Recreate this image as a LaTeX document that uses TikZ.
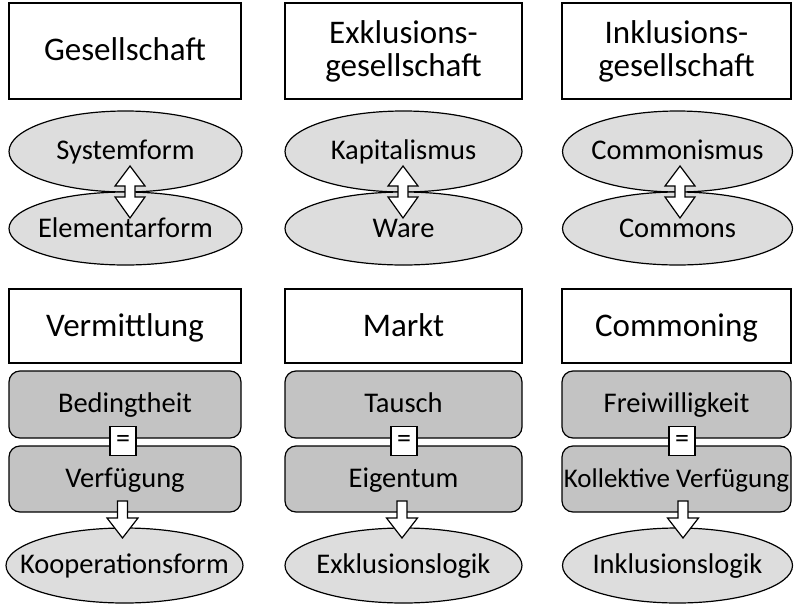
\documentclass[tikz,border=0pt]{standalone}
\usepackage{fontspec}
\setmainfont{Carlito}
\usetikzlibrary{calc,shapes.geometric}
\definecolor{ellfill}{RGB}{221,221,221}
\definecolor{boxfill}{RGB}{195,195,195}
\newcommand\zw[1]{\makebox[0pt]{#1}}
\tikzset{
  titlebox/.style={draw, line width=1.2pt, fill=white, inner sep=0pt, align=center,
    font=\fontsize{33}{33}\selectfont},
  onetitle/.style={titlebox, text height=25pt, text depth=5pt},
  ellbox/.style={ellipse, draw, line width=1.2pt, fill=ellfill, inner sep=0pt,
    text height=21pt, text depth=5pt, font=\fontsize{28.5}{30}\selectfont},
  rbox/.style={rectangle, rounded corners=11pt, draw, line width=1.2pt, fill=boxfill, inner sep=0pt,
    text height=21pt, text depth=5pt, font=\fontsize{28.5}{30}\selectfont},
  eqbox/.style={draw, line width=1.2pt, fill=white, inner sep=0pt, minimum width=26pt, minimum height=29pt,
    font=\fontsize{28}{30}\selectfont},
  blockarrow/.style={draw, line width=1.2pt, fill=white, line join=miter},
}
\newcommand\dblarr[1]{%
  \draw[blockarrow] ([shift={(0,-26)}]#1) -- ([shift={(15,-6)}]#1) -- ([shift={(5,-6)}]#1)
    -- ([shift={(5,5)}]#1) -- ([shift={(15,5)}]#1) -- ([shift={(0,26)}]#1)
    -- ([shift={(-15,5)}]#1) -- ([shift={(-5,5)}]#1) -- ([shift={(-5,-6)}]#1)
    -- ([shift={(-15,-6)}]#1) -- cycle;}
\newcommand\downarr[1]{%
  \draw[blockarrow] ([shift={(-5,0)}]#1) -- ([shift={(5,0)}]#1) -- ([shift={(5,17)}]#1)
    -- ([shift={(15.5,17)}]#1) -- ([shift={(0,37)}]#1) -- ([shift={(-15.5,17)}]#1)
    -- ([shift={(-5,17)}]#1) -- cycle;}
\begin{document}
\begin{tikzpicture}[x=1pt,y=-1pt]
\useasboundingbox (0,0) rectangle (794,604);
% column 1
\node[onetitle, minimum width=232pt, minimum height=96pt] (t1) at (125,51) {Gesellschaft};
\node[ellbox, minimum width=233pt, minimum height=81pt] (s1) at (125.5,151.5) {\zw{Systemform}};
\node[ellbox, minimum width=233pt, minimum height=73pt] (b1) at (125.5,228.5) {\zw{\raisebox{-1pt}{Elementarform}}};
\node[onetitle, minimum width=232pt, minimum height=74pt] (m1) at (125,326) {Vermittlung};
\node[rbox, minimum width=232pt, minimum height=67pt] (r1) at (125,404.5) {Bedingtheit};
\node[rbox, minimum width=232pt, minimum height=66pt] (v1) at (125,479) {Verfügung};
\node[ellbox, minimum width=237pt, minimum height=75pt] (l1) at (124.5,565.5) {\zw{Kooperationsform}};
% column 2
\node[titlebox, minimum width=237pt, minimum height=96pt] (t2) at (403.5,51) {Exklusions-\\gesellschaft};
\node[ellbox, minimum width=237pt, minimum height=81pt] (s2) at (403.5,151.5) {\zw{Kapitalismus}};
\node[ellbox, minimum width=237pt, minimum height=73pt] (b2) at (403.5,228.5) {\zw{\raisebox{-1pt}{Ware}}};
\node[onetitle, minimum width=237pt, minimum height=74pt] (m2) at (403.5,326) {Markt};
\node[rbox, minimum width=237pt, minimum height=67pt] (r2) at (403.5,404.5) {Tausch};
\node[rbox, minimum width=237pt, minimum height=66pt] (v2) at (403.5,479) {Eigentum};
\node[ellbox, minimum width=237pt, minimum height=75pt] (l2) at (403.5,565.5) {\zw{Exklusionslogik}};
% column 3
\node[titlebox, minimum width=229pt, minimum height=96pt] (t3) at (676.5,51) {Inklusions-\\gesellschaft};
\node[ellbox, minimum width=230pt, minimum height=81pt] (s3) at (677.5,151.5) {\zw{Commonismus}};
\node[ellbox, minimum width=230pt, minimum height=73pt] (b3) at (677.5,228.5) {\zw{\raisebox{-1pt}{Commons}}};
\node[onetitle, minimum width=229pt, minimum height=74pt] (m3) at (676.5,326) {Commoning};
\node[rbox, minimum width=229pt, minimum height=67pt] (r3) at (676.5,404.5) {Freiwilligkeit};
\node[rbox, minimum width=229pt, minimum height=66pt, font=\fontsize{27}{30}\selectfont] (v3) at (676.5,479) {Kollektive Verfügung};
\node[ellbox, minimum width=230pt, minimum height=75pt] (l3) at (677.5,565.5) {\zw{Inklusionslogik}};
% connectors
\coordinate (d1) at (130,192);
\coordinate (d2) at (403,192);
\coordinate (d3) at (680,192);
\dblarr{d1}\dblarr{d2}\dblarr{d3}
\node[eqbox] (q1) at (123,441) {=};
\node[eqbox] (q2) at (404,441) {=};
\node[eqbox] (q3) at (682,441) {=};
\coordinate (a1) at (122.5,501);
\coordinate (a2) at (402,501);
\coordinate (a3) at (683,501);
\downarr{a1}\downarr{a2}\downarr{a3}
\end{tikzpicture}
\end{document}
